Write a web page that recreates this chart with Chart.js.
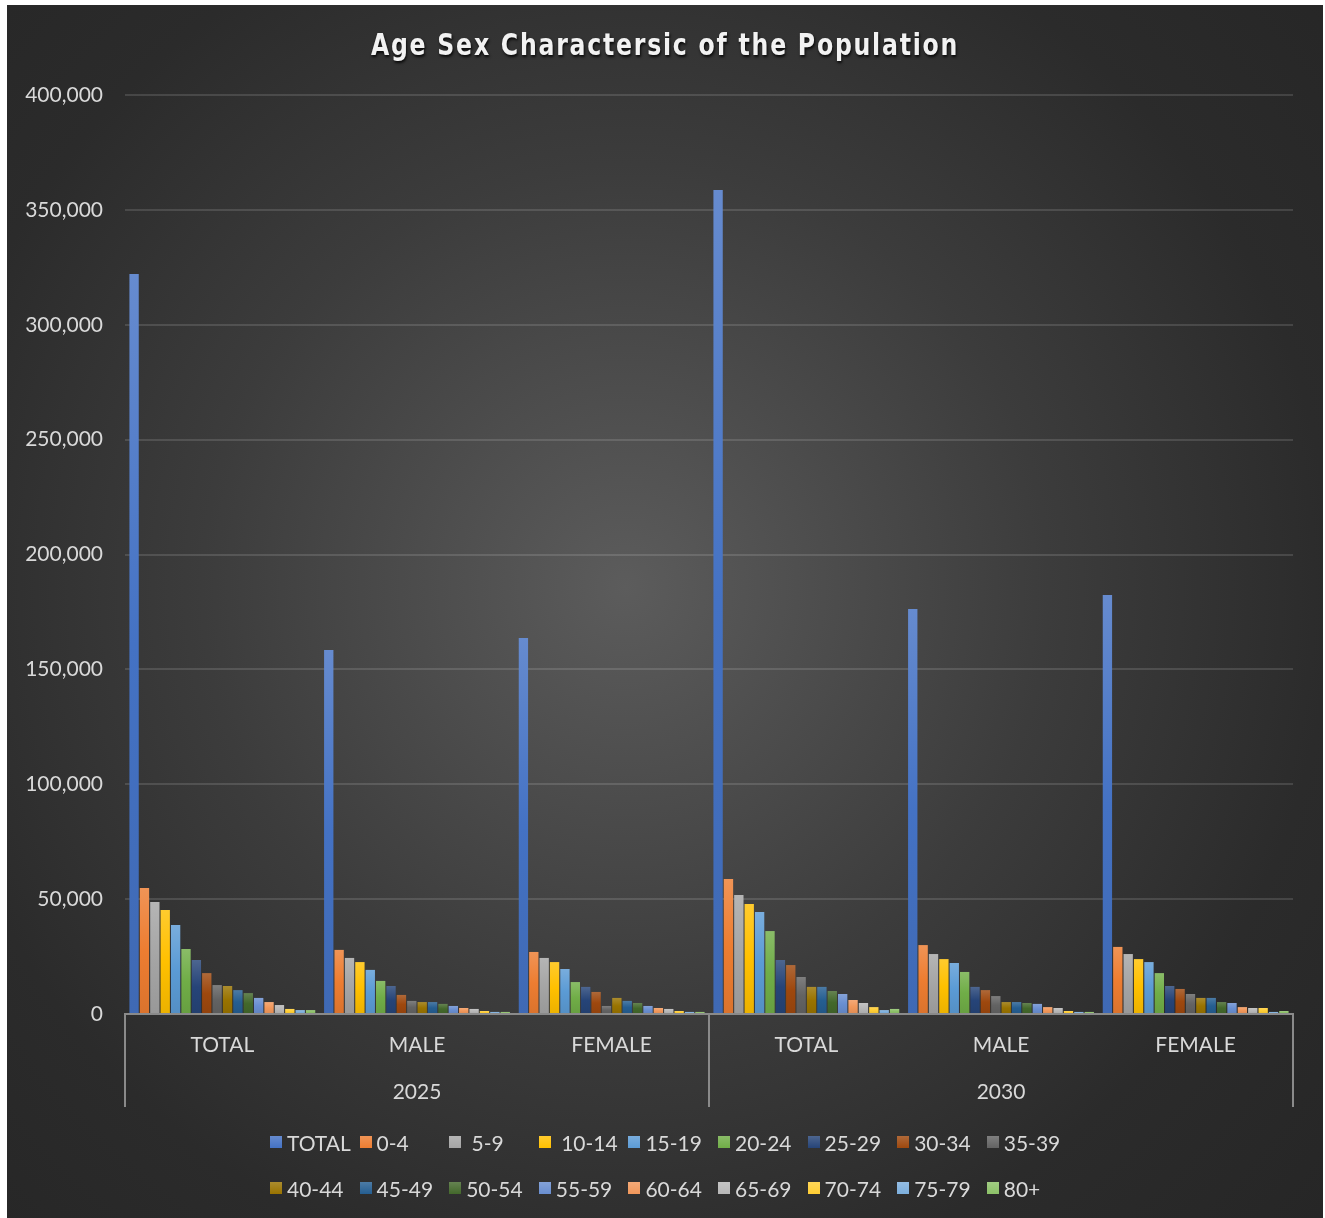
<!DOCTYPE html>
<html>
<head>
<meta charset="utf-8">
<title>Age Sex Charactersic of the Population</title>
<script src="https://cdn.jsdelivr.net/npm/chart.js@4.4.1/dist/chart.umd.min.js"></script>
<style>
    body { margin: 0; background: #ffffff; }
    #box {
        position: absolute; left: 7px; top: 5px; width: 1316px; height: 1213px;
        background: radial-gradient(circle farthest-corner at 47% 48%, #5c5c5c 0%, #3c3c3c 45%, #2b2b2b 75%, #262626 100%);
        overflow: hidden;
    }
    #wrap { position: absolute; left: 0; top: 0; width: 1316px; height: 1213px; }
    #title {
        position: absolute; left: 0; top: 22px; width: 100%; text-align: center;
        font-family: 'Liberation Sans Narrow', 'DejaVu Sans Condensed', sans-serif;
        font-weight: bold; font-size: 30px; letter-spacing: 2px; color: #f2f2f2;
        text-shadow: 1px 2px 3px rgba(0, 0, 0, 0.85);
        transform: scaleX(0.875); transform-origin: 50% 50%;
    }
    #legend {
        position: absolute; left: 263px; top: 1114px;
        display: grid; grid-template-columns: repeat(9, 89.6px); grid-auto-rows: 46px;
        font-family: Lato, sans-serif; font-size: 21px; color: #d9d9d9;
    }
    #legend .item { display: flex; align-items: center; white-space: pre; }
    #legend .mark { width: 12px; height: 12px; margin-right: 5px; flex: none; }
</style>
</head>
<body>
<div id="box">
    <div id="wrap"><canvas id="chart"></canvas></div>
    <div id="title">Age Sex Charactersic of the Population</div>
    <div id="legend"></div>
</div>
<script>
// Categories
const groups = ['TOTAL', 'MALE', 'FEMALE', 'TOTAL', 'MALE', 'FEMALE'];
const years = ['2025', '2030'];
const seriesNames = ['TOTAL', '0-4', ' 5-9', ' 10-14', '15-19', '20-24', '25-29', '30-34', '35-39',
    '40-44', '45-49', '50-54', '55-59', '60-64', '65-69', '70-74', '75-79', '80+'];

// Values per series, one per group (2025 TOTAL, MALE, FEMALE, 2030 TOTAL, MALE, FEMALE)
const totalAll = [322100, 158400, 163700, 358600, 176300, 182400];
const age0to4 = [54800, 27900, 27000, 58800, 30000, 29200];
const age5to9 = [48700, 24400, 24400, 51800, 26100, 26100];
const age10to14 = [45300, 22600, 22600, 47900, 23900, 23900];
const age15to19 = [38700, 19200, 19600, 44400, 22200, 22600];
const age20to24 = [28300, 14400, 13900, 36100, 18300, 17800];
const age25to29 = [23500, 12200, 11800, 23500, 11800, 12200];
const age30to34 = [17800, 8300, 9600, 21300, 10400, 10900];
const age35to39 = [12600, 5700, 3500, 16100, 7800, 8700];
const age40to44 = [12200, 5200, 7000, 11800, 5200, 7000];
const age45to49 = [10400, 5200, 5700, 11800, 5200, 7000];
const age50to54 = [9100, 4400, 4800, 10000, 4800, 5200];
const age55to59 = [7000, 3500, 3500, 8700, 4400, 4800];
const age60to64 = [5200, 2600, 2600, 6100, 3000, 3000];
const age65to69 = [3900, 2200, 2200, 4800, 2600, 2600];
const age70to74 = [2200, 1300, 1300, 3000, 1300, 2600];
const age75to79 = [1700, 900, 900, 1700, 900, 900];
const age80plus = [1700, 900, 900, 2200, 900, 1300];

const seriesValues = [totalAll, age0to4, age5to9, age10to14, age15to19, age20to24, age25to29,
    age30to34, age35to39, age40to44, age45to49, age50to54, age55to59, age60to64, age65to69,
    age70to74, age75to79, age80plus];

// Office palette
const seriesColors = ['#4472C4', '#ED7D31', '#A5A5A5', '#FFC000', '#5B9BD5', '#70AD47',
    '#264478', '#9E480E', '#636363', '#997300', '#255E91', '#43682B',
    '#698ED0', '#F1975A', '#B7B7B7', '#FFCD33', '#7CAFDD', '#8CC168'];

// lighten (amt > 0) or darken (amt < 0) a hex colour
function shade(hex, amt) {
    const n = parseInt(hex.slice(1), 16);
    let r = n >> 16, g = (n >> 8) & 255, b = n & 255;
    const f = c => Math.round(amt >= 0 ? c + (255 - c) * amt : c * (1 + amt));
    return `rgb(${f(r)}, ${f(g)}, ${f(b)})`;
}

// Vertical gradient for each bar, lighter at the top
function barFill(context, base) {
    const chart = context.chart;
    const yScale = chart.scales.y;
    if (!yScale || context.raw == null) return base;
    const top = yScale.getPixelForValue(context.raw);
    const bottom = yScale.getPixelForValue(0);
    if (!isFinite(top) || !isFinite(bottom) || bottom - top < 1) return base;
    const grad = chart.ctx.createLinearGradient(0, top, 0, bottom);
    grad.addColorStop(0, shade(base, 0.18));
    grad.addColorStop(0.5, base);
    grad.addColorStop(1, shade(base, -0.08));
    return grad;
}

const datasets = seriesNames.map((name, i) => ({
    label: name,
    data: seriesValues[i],
    backgroundColor: ctx => barFill(ctx, seriesColors[i]),
    borderWidth: 0,
    categoryPercentage: 0.96,
    barPercentage: 0.9
}));

// Lines separating the year groups below the axis
const groupLines = {
    id: 'groupLines',
    afterDraw(chart) {
        const x2 = chart.scales.x2;
        const ctx = chart.ctx;
        const half = (x2.getPixelForTick(1) - x2.getPixelForTick(0)) / 2;
        const xs = [x2.getPixelForTick(0) - half, x2.getPixelForTick(0) + half, x2.getPixelForTick(1) + half];
        ctx.save();
        ctx.strokeStyle = '#8a8a8a';
        ctx.lineWidth = 2;
        xs.forEach(x => {
            ctx.beginPath();
            ctx.moveTo(Math.round(x), chart.chartArea.bottom);
            ctx.lineTo(Math.round(x), x2.bottom - 7);
            ctx.stroke();
        });
        ctx.restore();
    }
};

const tickFont = { family: 'Lato, sans-serif', size: 21 };

const myChart = new Chart(document.getElementById('chart'), {
    type: 'bar',
    data: { labels: groups, datasets: datasets },
    options: {
        responsive: true,
        maintainAspectRatio: false,
        animation: false,
        layout: { padding: { top: 90, right: 30, bottom: 104, left: 0 } },
        plugins: {
            legend: { display: false },
            title: { display: false },
            tooltip: { enabled: true }
        },
        scales: {
            y: {
                min: 0,
                max: 400000,
                ticks: {
                    stepSize: 50000,
                    color: '#d9d9d9',
                    font: tickFont,
                    padding: 22,
                    callback: v => v.toLocaleString('en-US')
                },
                grid: { color: 'rgba(255,255,255,0.13)', lineWidth: 2, drawTicks: false },
                border: { display: false },
                afterFit: scale => { scale.width = 118; }
            },
            x: {
                ticks: { color: '#d9d9d9', font: tickFont, padding: 19 },
                grid: { display: false, drawTicks: false },
                border: { display: true, color: '#8a8a8a', width: 2 },
                afterFit: scale => { scale.height = 50; }
            },
            x2: {
                type: 'category',
                labels: years,
                position: 'bottom',
                ticks: { color: '#d9d9d9', font: tickFont, padding: 16 },
                grid: { display: false, drawTicks: false },
                border: { display: false },
                afterFit: scale => { scale.height = 50; }
            }
        }
    },
    plugins: [groupLines]
});

// HTML legend laid out in equal columns
const legendEl = document.getElementById('legend');
myChart.data.datasets.forEach((ds, i) => {
    const item = document.createElement('div');
    item.className = 'item';
    const mark = document.createElement('span');
    mark.className = 'mark';
    mark.style.background = `linear-gradient(${shade(seriesColors[i], 0.18)}, ${seriesColors[i]})`;
    item.appendChild(mark);
    item.appendChild(document.createTextNode(ds.label));
    legendEl.appendChild(item);
});
</script>
</body>
</html>
